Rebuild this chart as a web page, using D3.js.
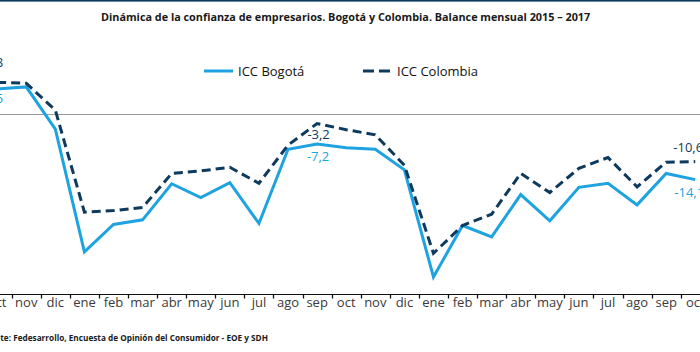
<!DOCTYPE html>
<html>
<head>
<meta charset="utf-8">
<script src="https://cdn.jsdelivr.net/npm/d3@7"></script>
<style>
  html, body { margin: 0; padding: 0; background: #fff; overflow: hidden; }
  svg { display: block; }
</style>
</head>
<body>
<div id="chart"></div>
<script>
// data (balance mensual, oct 2015 - oct 2017)
const periods = ["2015-10", "2015-11", "2015-12",
    "2016-01", "2016-02", "2016-03", "2016-04", "2016-05", "2016-06",
    "2016-07", "2016-08", "2016-09", "2016-10", "2016-11", "2016-12",
    "2017-01", "2017-02", "2017-03", "2017-04", "2017-05", "2017-06",
    "2017-07", "2017-08", "2017-09", "2017-10"];
const monthLabels = ["oct", "nov", "dic", "ene", "feb", "mar", "abr", "may", "jun",
    "jul", "ago", "sep", "oct", "nov", "dic", "ene", "feb", "mar", "abr", "may",
    "jun", "jul", "ago", "sep", "oct"];
const iccBogota = [3.5, 3.9, -4.3, -28.1, -22.8, -21.9, -14.9, -17.6, -14.7,
    -22.6, -8.2, -7.2, -7.9, -8.2, -12.2, -33.0, -23.0, -25.2, -17.0, -22.1,
    -15.6, -14.8, -19.0, -12.9, -14.1];
const iccColombia = [4.8, 4.6, -0.6, -20.4, -20.1, -19.5, -12.9, -12.4, -11.7,
    -14.8, -7.4, -3.2, -4.4, -5.4, -11.3, -28.4, -23.0, -20.8, -12.9, -16.6,
    -11.9, -9.8, -15.5, -10.7, -10.6];
const seriesNames = ["ICC Bogotá", "ICC Colombia"];
const labeledIdx = [0, 11, 24];

const titleText = "Dinámica de la confianza de empresarios. Bogotá y Colombia. Balance mensual 2015 – 2017";
const sourceLead = "Fuente: ";
const sourceText = "Fedesarrollo, Encuesta de Opinión del Consumidor - EOE y SDH";

const width = 700, height = 352;
const blue = "#1ea3e0", navy = "#0e3a5e";
const font = "'Open Sans', 'Noto Sans', sans-serif";

const svg = d3.select("#chart").append("svg")
    .attr("width", width)
    .attr("height", height);

// top rule
svg.append("rect")
    .attr("x", 0).attr("y", 0)
    .attr("width", width).attr("height", 1.6)
    .attr("fill", navy);

// title, fitted to the width it takes in the source
const title = svg.append("text")
    .attr("x", 101).attr("y", 20.5)
    .style("font-family", font)
    .style("font-weight", "bold")
    .style("font-size", "11px")
    .attr("fill", "#1a1a1a")
    .text(titleText);
const tw = title.node().getComputedTextLength();
title.style("font-size", (11 * 490 / tw) + "px");

// scales - the plot is cropped on both sides like the source image
const x = d3.scaleBand()
    .domain(periods)
    .range([-17.39, 709.79]);

const y = d3.scaleLinear()
    .domain([-36.3, 20])
    .range([294, 4]);

const cx = i => x(periods[i]) + x.bandwidth() / 2;

// gray separator line
svg.append("line")
    .attr("x1", 0).attr("x2", width)
    .attr("y1", 114.5).attr("y2", 114.5)
    .attr("stroke", "#9a9a9a")
    .attr("stroke-width", 1);

// lines
const line = d3.line()
    .x((d, i) => cx(i))
    .y(d => y(d));

svg.append("path")
    .datum(iccBogota)
    .attr("d", line)
    .attr("fill", "none")
    .attr("stroke", blue)
    .attr("stroke-width", 3)
    .attr("stroke-linejoin", "miter");

svg.append("path")
    .datum(iccColombia)
    .attr("d", line)
    .attr("fill", "none")
    .attr("stroke", navy)
    .attr("stroke-width", 3)
    .attr("stroke-dasharray", "9,5");

// x axis
const axis = svg.append("g")
    .attr("transform", "translate(0,294)")
    .call(d3.axisBottom(x).tickSize(0).tickPadding(3.5).tickFormat((d, i) => monthLabels[i]));
axis.select(".domain").remove();
axis.selectAll("text")
    .style("font-family", font)
    .style("font-size", "13px")
    .attr("fill", "#3a3a3a");

svg.append("line")
    .attr("x1", 0).attr("x2", width)
    .attr("y1", 294.5).attr("y2", 294.5)
    .attr("stroke", "#111")
    .attr("stroke-width", 1.2);

// ticks at the band boundaries
svg.selectAll("line.sep")
    .data(periods.slice(1))
    .enter()
    .append("line")
    .attr("class", "sep")
    .attr("x1", d => Math.round(x(d)) + 0.5)
    .attr("x2", d => Math.round(x(d)) + 0.5)
    .attr("y1", 294.5).attr("y2", 298.5)
    .attr("stroke", "#111")
    .attr("stroke-width", 1.3);

// data labels
const fmt = v => d3.format(".1f")(v).replace(".", ",").replace("−", "-");
const labelOffsets = {
    colombia: { 0: [-3, -15.5], 11: [1.5, 15], 24: [-7, -9.5] },
    bogota: { 0: [-3, 14.5], 11: [1, 17], 24: [-6, 17] }
};

[["colombia", iccColombia, navy], ["bogota", iccBogota, blue]].forEach(([key, vals, col]) => {
    svg.selectAll("text.lbl-" + key)
        .data(labeledIdx)
        .enter()
        .append("text")
        .attr("class", "lbl-" + key)
        .attr("x", i => cx(i) + labelOffsets[key][i][0])
        .attr("y", i => y(vals[i]) + labelOffsets[key][i][1])
        .attr("text-anchor", "middle")
        .style("font-family", font)
        .style("font-size", "13px")
        .attr("fill", col)
        .text(i => fmt(vals[i]));
});

// legend
const legend = svg.append("g");
const legendItems = [
    { name: seriesNames[0], color: blue, dash: null, x: 204 },
    { name: seriesNames[1], color: navy, dash: "11,5", x: 363 }
];
legendItems.forEach(it => {
    legend.append("line")
        .attr("x1", it.x).attr("x2", it.x + 29)
        .attr("y1", 71).attr("y2", 71)
        .attr("stroke", it.color)
        .attr("stroke-width", 3)
        .attr("stroke-dasharray", it.dash);
    legend.append("text")
        .attr("x", it.x + 34).attr("y", 75.5)
        .style("font-family", font)
        .style("font-size", "13px")
        .attr("fill", "#111")
        .text(it.name);
});

// source note (cropped on the left like the original):
// size the text so "Fedesarrollo ... SDH" spans x 12.7 -> 268
const srcMain = svg.append("text")
    .attr("x", 268).attr("y", 340.5)
    .attr("text-anchor", "end")
    .style("font-family", font)
    .style("font-weight", "bold")
    .style("font-size", "9px")
    .attr("fill", "#1a1a1a")
    .text(sourceText);
const sw = srcMain.node().getComputedTextLength();
const srcSize = 9 * 255.3 / sw;
srcMain.style("font-size", srcSize + "px");
srcMain.text(null);
srcMain.append("tspan").text(sourceLead);
srcMain.append("tspan").text(sourceText);
</script>
</body>
</html>
